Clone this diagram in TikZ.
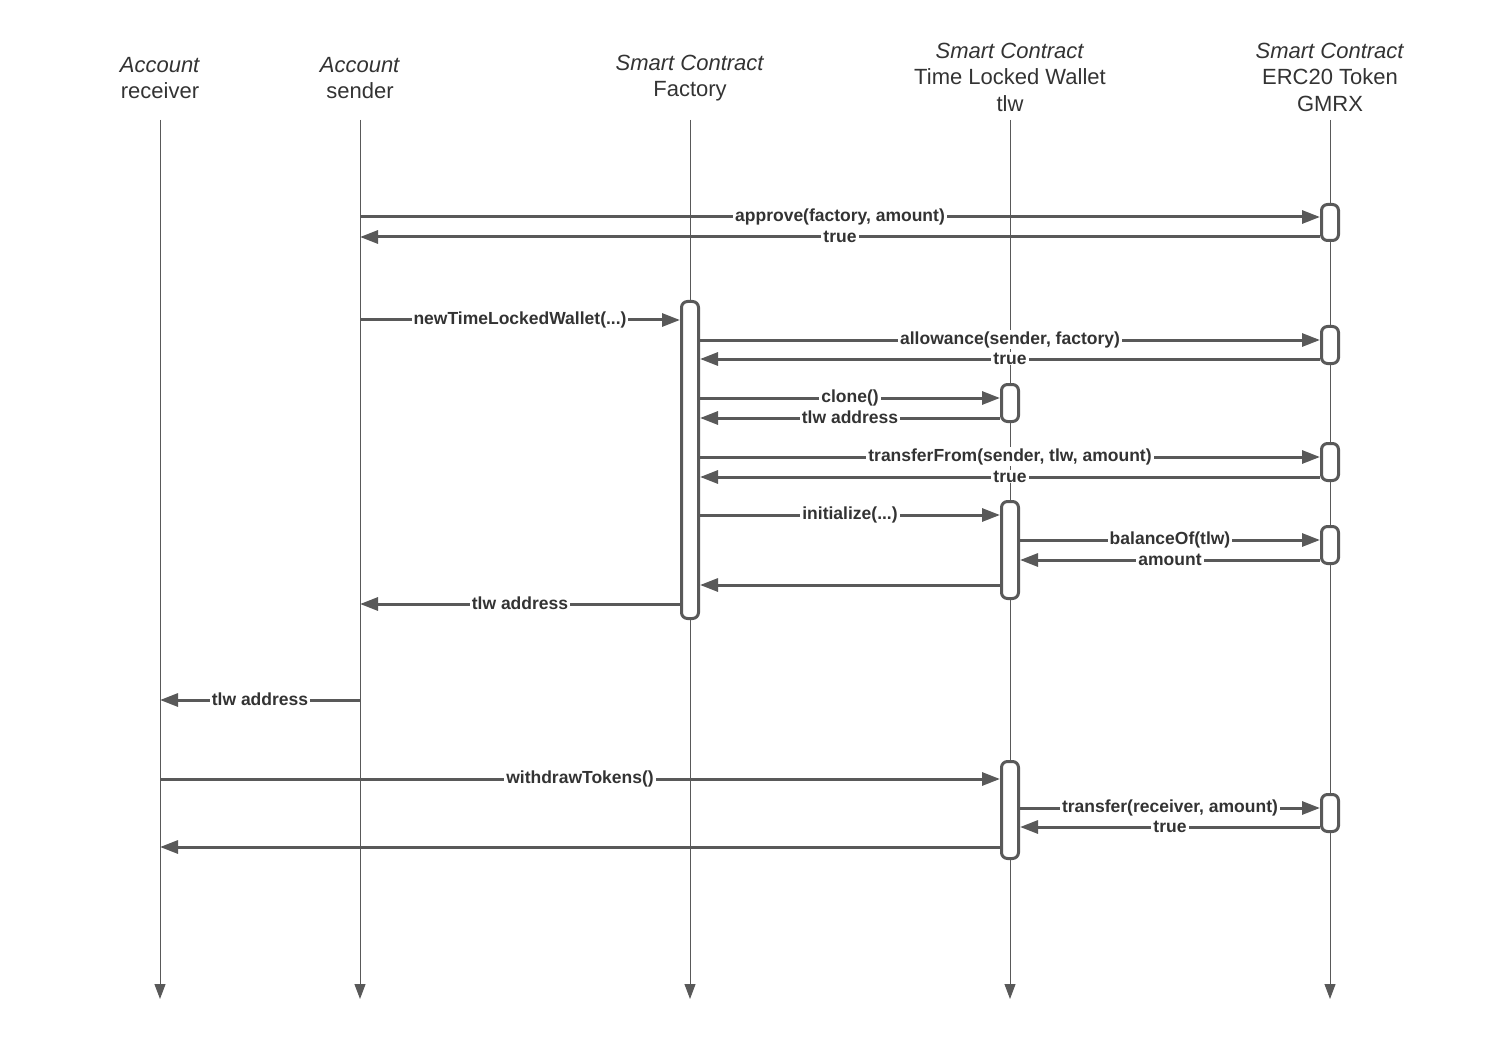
\documentclass[tikz,border=0pt]{standalone}
\usepackage{fontspec}
\setmainfont{Liberation Sans}
\usetikzlibrary{arrows.meta}
\definecolor{ln}{HTML}{595959}
\definecolor{tx}{HTML}{333333}
\begin{document}
\begin{tikzpicture}[x=1pt,y=-1pt,
  life/.style={ln,line width=1pt,-{Triangle[length=15pt,width=11pt]}},
  head/.style={tx,align=center,font=\fontsize{22}{26.5}\selectfont},
  act/.style={draw=ln,line width=3pt,fill=white,rounded corners=6pt,minimum width=17pt,inner sep=0pt},
  msg/.style={ln,line width=3pt,-{Triangle[length=18pt,width=13pt]}},
  lbl/.style={tx,fill=white,inner xsep=2pt,inner ysep=1pt,yshift=0.5pt,font=\bfseries\fontsize{17.5}{20}\selectfont}]
\useasboundingbox (0,0) rectangle (1490,1040);
% heads
\node[head] (rcv) at (160,78) {\textit{Account}\\receiver};
\node[head] (snd) at (360,78) {\textit{Account}\\sender};
\node[head] (fct) at (690,78) {\textit{Smart Contract}\\Factory};
\node[head] (tlw) at (1010,77) {\textit{Smart Contract}\\Time Locked Wallet\\tlw};
\node[head] (tok) at (1330,77) {\textit{Smart Contract}\\ERC20 Token\\GMRX};
% lifelines
\foreach \n in {rcv,snd,fct,tlw,tok}
  \draw[life] (\n |- 0,120)--(\n |- 0,999);
% activations
\node[act,minimum height=36pt] (tok1) at (1330,222.5) {};
\node[act,minimum height=317pt] (fac) at (690,460) {};
\node[act,minimum height=37pt] (tok2) at (1330,345) {};
\node[act,minimum height=37pt] (tlw1) at (1010,403) {};
\node[act,minimum height=37pt] (tok3) at (1330,462) {};
\node[act,minimum height=97pt] (tlw2) at (1010,550) {};
\node[act,minimum height=37pt] (tok4) at (1330,545) {};
\node[act,minimum height=97pt] (tlw3) at (1010,810) {};
\node[act,minimum height=37pt] (tok5) at (1330,813) {};
% messages
\draw[msg] (snd |- 0,217)--node[lbl]{approve(factory, amount)}(tok1.west |- 0,217);
\draw[msg] (tok1.west |- 0,237)--node[lbl]{true}(snd |- 0,237);
\draw[msg] (snd |- 0,320)--node[lbl]{newTimeLockedWallet(...)}(fac.west |- 0,320);
\draw[msg] (fac.east |- 0,340)--node[lbl]{allowance(sender, factory)}(tok2.west |- 0,340);
\draw[msg] (tok2.west |- 0,359)--node[lbl]{true}(fac.east |- 0,359);
\draw[msg] (fac.east |- 0,398)--node[lbl]{clone()}(tlw1.west |- 0,398);
\draw[msg] (tlw1.west |- 0,418)--node[lbl]{tlw address}(fac.east |- 0,418);
\draw[msg] (fac.east |- 0,457)--node[lbl]{transferFrom(sender, tlw, amount)}(tok3.west |- 0,457);
\draw[msg] (tok3.west |- 0,477)--node[lbl]{true}(fac.east |- 0,477);
\draw[msg] (fac.east |- 0,515)--node[lbl]{initialize(...)}(tlw2.west |- 0,515);
\draw[msg] (tlw2.east |- 0,540)--node[lbl]{balanceOf(tlw)}(tok4.west |- 0,540);
\draw[msg] (tok4.west |- 0,560)--node[lbl]{amount}(tlw2.east |- 0,560);
\draw[msg] (tlw2.west |- 0,585)--(fac.east |- 0,585);
\draw[msg] (fac.west |- 0,604)--node[lbl]{tlw address}(snd |- 0,604);
\draw[msg] (snd |- 0,700)--node[lbl]{tlw address}(rcv |- 0,700);
\draw[msg] (rcv |- 0,779)--node[lbl]{withdrawTokens()}(tlw3.west |- 0,779);
\draw[msg] (tlw3.east |- 0,808)--node[lbl]{transfer(receiver, amount)}(tok5.west |- 0,808);
\draw[msg] (tok5.west |- 0,827)--node[lbl]{true}(tlw3.east |- 0,827);
\draw[msg] (tlw3.west |- 0,847)--(rcv |- 0,847);
\end{tikzpicture}
\end{document}
